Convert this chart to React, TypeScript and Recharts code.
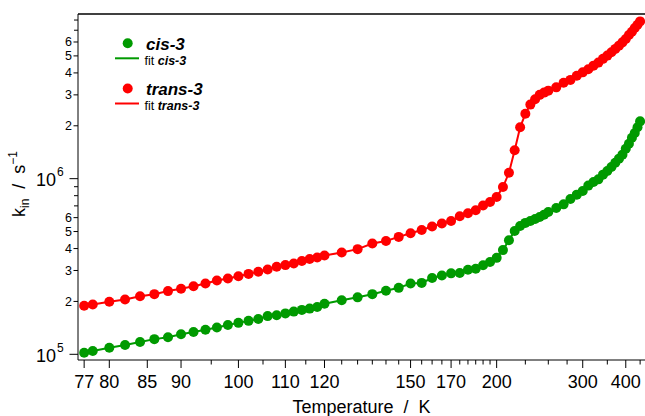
import { LineChart, Line, XAxis, YAxis, ReferenceLine } from "recharts";

// temperatures (K) of the measured points, shared by both isomers
const TEMPS = [
  77, 78, 80, 82, 84, 86, 88, 90, 92, 94, 96, 98, 100, 102, 104, 106, 108, 110, 112, 114, 116, 118, 120,
  125, 130, 135, 140, 145, 150, 155, 160, 165, 170, 175, 180, 185, 190, 195, 200, 205, 210, 215, 220, 225,
  230, 235, 240, 245, 250,
  260, 270, 280, 290, 300, 310, 320, 330, 340, 350, 360, 370, 380, 390, 400, 410, 420, 430, 440, 450,
];

// k_in in s^-1
const CIS_K = [
  1.02e5, 1.044e5, 1.09e5, 1.13e5, 1.175e5, 1.22e5, 1.25e5, 1.3e5, 1.34e5, 1.38e5, 1.42e5, 1.47e5, 1.51e5,
  1.55e5, 1.59e5, 1.65e5, 1.67e5, 1.71e5, 1.75e5, 1.79e5, 1.82e5, 1.86e5, 1.94e5,
  2.03e5, 2.11e5, 2.2e5, 2.3e5, 2.39e5, 2.53e5, 2.55e5, 2.72e5, 2.81e5, 2.89e5, 2.9e5, 3.03e5, 3.07e5,
  3.21e5, 3.35e5, 3.54e5, 3.92e5, 4.46e5, 5.04e5, 5.38e5, 5.6e5, 5.74e5, 5.89e5, 6.05e5, 6.24e5, 6.46e5,
  6.81e5, 7.14e5, 7.66e5, 8.11e5, 8.51e5, 9.13e5, 9.57e5, 9.91e5, 1.054e6, 1.105e6, 1.164e6, 1.233e6,
  1.3e6, 1.37e6, 1.48e6, 1.58e6, 1.71e6, 1.82e6, 1.96e6, 2.12e6,
];

const TRANS_K = [
  1.89e5, 1.92e5, 1.99e5, 2.05e5, 2.14e5, 2.2e5, 2.29e5, 2.36e5, 2.44e5, 2.53e5, 2.63e5, 2.7e5, 2.78e5,
  2.87e5, 2.95e5, 3.04e5, 3.15e5, 3.22e5, 3.29e5, 3.4e5, 3.49e5, 3.56e5, 3.65e5,
  3.8e5, 3.97e5, 4.27e5, 4.42e5, 4.66e5, 4.89e5, 5.1e5, 5.34e5, 5.55e5, 5.74e5, 6.11e5, 6.35e5, 6.61e5,
  7.03e5, 7.37e5, 7.86e5, 8.96e5, 1.08e6, 1.45e6, 1.96e6, 2.34e6, 2.64e6, 2.83e6, 3.0e6, 3.09e6, 3.17e6,
  3.31e6, 3.52e6, 3.65e6, 3.85e6, 4.03e6, 4.2e6, 4.4e6, 4.58e6, 4.81e6, 5.02e6, 5.24e6, 5.48e6,
  5.72e6, 5.97e6, 6.24e6, 6.58e6, 6.87e6, 7.21e6, 7.53e6, 7.86e6,
];

const X_LABELS = [77, 80, 85, 90, 100, 110, 120, 150, 170, 200, 300, 400];
const X_MINOR = [95, 105, 115, 125, 130, 135, 140, 145, 155, 160, 165, 175, 180, 185, 190, 195, 225, 250, 275, 350, 450];
const Y_TICKS = [
  1e5, 2e5, 3e5, 4e5, 5e5, 6e5, 7e5, 8e5, 9e5,
  1e6, 2e6, 3e6, 4e6, 5e6, 6e6, 7e6, 8e6,
];

const T_MIN = 76.3;
const T_MAX = 470;
const Y_MIN = 9.28e4;
const Y_MAX = 8.66e6;

const GREEN = "#009a00";
const RED = "#ff0000";
const FONT = "'Liberation Sans', Arial, Helvetica, sans-serif";

const AXIS_X = 78;
const AXIS_Y = 360;

// x axis is linear in 1/T
const data = TEMPS.map((t, i) => ({ inv: 1000 / t, cis: CIS_K[i], trans: TRANS_K[i] }));
const xTicks = [...X_LABELS, ...X_MINOR].map((t) => 1000 / t).sort((a, b) => a - b);

function XTick({ x, payload }: any) {
  const t = Math.round(1000 / payload.value);
  const major = X_LABELS.includes(t);
  return (
    <g>
      <line x1={x} x2={x} y1={AXIS_Y} y2={AXIS_Y + (major ? 8 : 4.5)} stroke="#000" strokeWidth={1} />
      {major && (
        <text x={x} y={AXIS_Y + 27.5} textAnchor="middle" fontSize={18} fontFamily={FONT} fill="#000">
          {t}
        </text>
      )}
    </g>
  );
}

function YTick({ y, payload }: any) {
  const v = payload.value;
  const e = Math.floor(Math.log10(v) + 1e-6);
  const m = Math.round(v / Math.pow(10, e));
  if (m === 1) {
    return (
      <g>
        <line x1={AXIS_X - 8.5} x2={AXIS_X} y1={y} y2={y} stroke="#000" />
        <text x={56} y={y + 7.5} textAnchor="end" fontSize={18} fontFamily={FONT} fill="#000">10</text>
        <text x={57} y={y - 2.5} fontSize={12} fontFamily={FONT} fill="#000">{e}</text>
      </g>
    );
  }
  const labeled = m <= 6;
  return (
    <g>
      <line x1={AXIS_X - (labeled ? 4.5 : 4)} x2={AXIS_X} y1={y} y2={y} stroke="#000" />
      {labeled && (
        <text x={72} y={y + 4.3} textAnchor="end" fontSize={12.5} fontFamily={FONT} fill="#000">
          {m}
        </text>
      )}
    </g>
  );
}

function LegendEntry({ y, color, name }: { y: number; color: string; name: string }) {
  return (
    <g>
      <circle cx={127.7} cy={y} r={5} fill={color} />
      <text x={146} y={y + 6.2} fontSize={17} fontWeight="bold" fontStyle="italic">
        {name}
      </text>
      <line x1={115} x2={139} y1={y + 15} y2={y + 15} stroke={color} strokeWidth={2} />
      <text x={144.5} y={y + 21.5} fontSize={12.5}>
        {"fit "}
        <tspan fontWeight="bold" fontStyle="italic">{name}</tspan>
      </text>
    </g>
  );
}

export default function App() {
  return (
    <div style={{ position: "absolute", left: 0, top: 0, width: 645, height: 416, background: "#fff" }}>
      <LineChart width={645} height={416} data={data} margin={{ top: 14, right: 0, bottom: 0, left: 0 }}>
        <XAxis
          type="number"
          dataKey="inv"
          domain={[1000 / T_MAX, 1000 / T_MIN]}
          reversed
          allowDataOverflow
          ticks={xTicks}
          interval={0}
          tick={(p: any) => <XTick {...p} />}
          tickLine={false}
          axisLine={{ stroke: "#000" }}
          height={56}
        />
        <YAxis
          type="number"
          scale="log"
          domain={[Y_MIN, Y_MAX]}
          allowDataOverflow
          ticks={Y_TICKS}
          interval={0}
          tick={(p: any) => <YTick {...p} />}
          tickLine={false}
          axisLine={{ stroke: "#000" }}
          width={78}
        />
        <ReferenceLine y={Y_MAX} stroke="#000" strokeWidth={1.5} />
        <Line
          type="linear"
          dataKey="trans"
          stroke={RED}
          strokeWidth={2}
          dot={{ r: 5, fill: RED, strokeWidth: 0 }}
          isAnimationActive={false}
        />
        <Line
          type="linear"
          dataKey="cis"
          stroke={GREEN}
          strokeWidth={2}
          dot={{ r: 5, fill: GREEN, strokeWidth: 0 }}
          isAnimationActive={false}
        />
      </LineChart>

      <svg
        width={645}
        height={416}
        style={{ position: "absolute", left: 0, top: 0, pointerEvents: "none" }}
        fontFamily={FONT}
      >
        <LegendEntry y={43.3} color={GREEN} name="cis-3" />
        <LegendEntry y={88.5} color={RED} name="trans-3" />

        <text x={361.5} y={413} textAnchor="middle" fontSize={18} style={{ whiteSpace: "pre" }}>
          {"Temperature  /  K"}
        </text>

        <text
          transform="translate(25, 184) rotate(-90)"
          textAnchor="middle"
          fontSize={18}
          style={{ whiteSpace: "pre" }}
        >
          k<tspan fontSize={12} dy={4}>in</tspan>
          <tspan dy={-4}>{"  /  s"}</tspan>
          <tspan fontSize={12} dy={-8}>{"\u22121"}</tspan>
        </text>
      </svg>
    </div>
  );
}
